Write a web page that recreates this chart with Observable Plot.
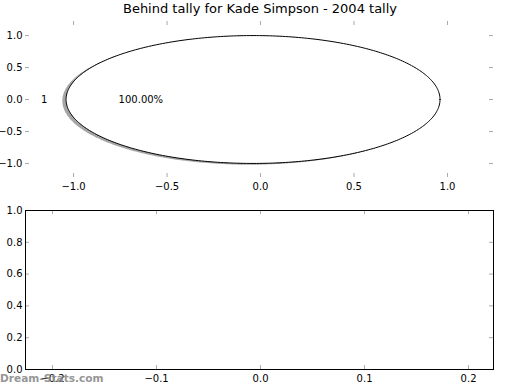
<!DOCTYPE html>
<html>
<head>
<meta charset="utf-8">
<script src="https://cdn.jsdelivr.net/npm/d3@7"></script>
<script src="https://cdn.jsdelivr.net/npm/@observablehq/plot@0.6"></script>
<style>
  html, body { margin: 0; padding: 0; background: #fff; }
  #wrap { position: relative; width: 520px; height: 390px; background: #fff; font-family: "DejaVu Sans", sans-serif; overflow: hidden; }
  #top, #bottom { position: absolute; left: 0; }
  #top { top: 0; }
  #bottom { top: 200px; }
  #title { position: absolute; left: 0; top: 1px; width: 520px; text-align: center; font-size: 13px; color: #000; }
  #wm { position: absolute; left: 0; top: 372px; font-family: "DejaVu Sans", sans-serif; font-weight: bold; font-size: 10.6px; color: #8c8c8c; opacity: 0.9; }
</style>
</head>
<body>
<div id="wrap">
  <div id="top"></div>
  <div id="bottom"></div>
  <div id="title"></div>
  <div id="wm">Dream-Stats.com</div>
</div>
<script>
// ---- data ----
const titleText = "Behind tally for Kade Simpson - 2004 tally";
const sliceNames = ["1"];
const sliceValues = [1];
const sliceColors = ["#ffffff"];
const pieCenterX = -0.04;
const pieRadius = 1.0;
const shadowOffset = [-0.02, -0.02];
const topXDomain = [-1.257, 1.246];
const topYDomain = [-1.22, 1.22];
const topXTicks = [-1.0, -0.5, 0.0, 0.5, 1.0];
const topYTicks = [-1.0, -0.5, 0.0, 0.5, 1.0];
const botXDomain = [-0.226, 0.224];
const botYDomain = [0, 1];
const botXTicks = [-0.2, -0.1, 0.0, 0.1, 0.2];
const botYTicks = [0.0, 0.2, 0.4, 0.6, 0.8, 1.0];

document.getElementById("title").textContent = titleText;

// ---- pie geometry from values ----
const total = d3.sum(sliceValues);
let acc = 0;
const wedges = sliceValues.map((v, i) => {
  const a0 = acc / total * 2 * Math.PI;
  acc += v;
  const a1 = acc / total * 2 * Math.PI;
  return {name: sliceNames[i], value: v, a0, a1, color: sliceColors[i]};
});
function wedgePoints(w, dx, dy) {
  const pts = [];
  const full = (w.a1 - w.a0) >= 2 * Math.PI - 1e-9;
  if (!full) pts.push({name: w.name, x: pieCenterX + dx, y: dy});
  const n = 360;
  for (let k = 0; k <= n; k++) {
    const t = w.a0 + (w.a1 - w.a0) * k / n;
    pts.push({name: w.name, x: pieCenterX + dx + pieRadius * Math.cos(t), y: dy + pieRadius * Math.sin(t)});
  }
  return pts;
}
const wedgePts = wedges.flatMap(w => wedgePoints(w, 0, 0));
const shadowPts = wedges.flatMap(w => wedgePoints(w, shadowOffset[0], shadowOffset[1]));
const labels = wedges.map(w => {
  const m = (w.a0 + w.a1) / 2;
  return {
    name: w.name,
    pct: d3.format(".2%")(w.value / total),
    lx: pieCenterX + 1.1 * pieRadius * Math.cos(m),
    ly: 1.1 * pieRadius * Math.sin(m),
    px: pieCenterX + 0.6 * pieRadius * Math.cos(m),
    py: 0.6 * pieRadius * Math.sin(m),
    left: Math.cos(m) < 0
  };
});

const fmt = d3.format(".1f");
const tickColor = "#aaaaaa";
const tickLen = 4;

function tickMarks(xt, yt, W, H, m) {
  const iw = W - m.left - m.right, ih = H - m.top - m.bottom;
  return [
    Plot.tickX(xt, {x: d => d, stroke: tickColor, insetTop: ih - tickLen}),
    Plot.tickX(xt, {x: d => d, stroke: tickColor, insetBottom: ih - tickLen}),
    Plot.tickY(yt, {y: d => d, stroke: tickColor, insetRight: iw - tickLen}),
    Plot.tickY(yt, {y: d => d, stroke: tickColor, insetLeft: iw - tickLen})
  ];
}

// ---- top (pie) ----
const topM = {top: 21, bottom: 23, left: 25, right: 27};
const topPlot = Plot.plot({
  width: 520, height: 200,
  marginTop: topM.top, marginBottom: topM.bottom, marginLeft: topM.left, marginRight: topM.right,
  style: {fontFamily: "DejaVu Sans, sans-serif", fontSize: "10px", background: "transparent", overflow: "visible", color: "#000"},
  x: {domain: topXDomain, axis: null},
  y: {domain: topYDomain, axis: null},
  marks: [
    Plot.line(shadowPts, {x: "x", y: "y", z: "name", fill: "#4d4d4d", fillOpacity: 0.5, stroke: "none", curve: "linear-closed"}),
    Plot.line(wedgePts, {x: "x", y: "y", z: "name", fill: wedges[0].color, stroke: "#000", strokeWidth: 1, curve: "linear-closed"}),
    Plot.text(labels.filter(d => d.left), {x: "lx", y: "ly", text: "name", textAnchor: "end", fill: "#000"}),
    Plot.text(labels.filter(d => !d.left), {x: "lx", y: "ly", text: "name", textAnchor: "start", fill: "#000"}),
    Plot.text(labels, {x: "px", y: "py", text: "pct", textAnchor: "middle", fill: "#000"}),
    ...tickMarks(topXTicks, topYTicks, 520, 200, topM),
    Plot.axisX(topXTicks, {tickSize: 0, tickPadding: 5, tickFormat: fmt, fill: "#000"}),
    Plot.axisY(topYTicks, {tickSize: 0, tickPadding: 3, tickFormat: fmt, fill: "#000"})
  ]
});
document.getElementById("top").appendChild(topPlot);

// ---- bottom (empty axes) ----
const botM = {top: 10, bottom: 21, left: 25, right: 27};
const botPlot = Plot.plot({
  width: 520, height: 190,
  marginTop: botM.top, marginBottom: botM.bottom, marginLeft: botM.left, marginRight: botM.right,
  style: {fontFamily: "DejaVu Sans, sans-serif", fontSize: "10px", background: "transparent", overflow: "visible", color: "#000"},
  x: {domain: botXDomain, axis: null},
  y: {domain: botYDomain, axis: null},
  marks: [
    ...tickMarks(botXTicks, botYTicks, 520, 190, botM),
    Plot.frame({stroke: "#000", strokeWidth: 1}),
    Plot.axisX(botXTicks, {tickSize: 0, tickPadding: 5, tickFormat: fmt, fill: "#000"}),
    Plot.axisY(botYTicks, {tickSize: 0, tickPadding: 3, tickFormat: fmt, fill: "#000"})
  ]
});
document.getElementById("bottom").appendChild(botPlot);
</script>
</body>
</html>
